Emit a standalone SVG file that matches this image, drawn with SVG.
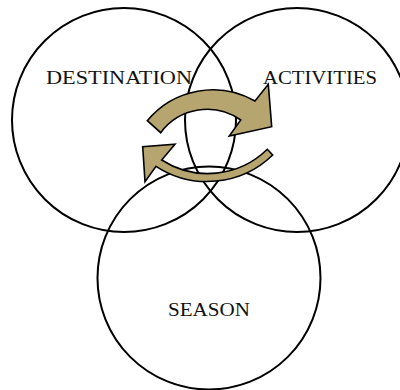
<svg xmlns="http://www.w3.org/2000/svg" width="400" height="390" viewBox="0 0 400 390">
<style>
.c{fill:none;stroke:#000;stroke-width:2}
.t{font-family:"Liberation Serif","DejaVu Serif",serif;font-size:19px;fill:#111}
.a{fill:#b7a56f;stroke:#000;stroke-width:1.6;stroke-linejoin:miter}
</style>
<rect width="400" height="390" fill="#fff"/>
<g id="destination">
<circle class="c" cx="124" cy="120" r="112"/>
<text class="t" x="46" y="84" textLength="146" lengthAdjust="spacingAndGlyphs">DESTINATION</text>
</g>
<g id="activities">
<circle class="c" cx="297" cy="120" r="112"/>
<text class="t" x="263" y="84" textLength="114" lengthAdjust="spacingAndGlyphs">ACTIVITIES</text>
</g>
<g id="season">
<circle class="c" cx="209" cy="278" r="111.5"/>
<text class="t" x="168" y="316" textLength="82" lengthAdjust="spacingAndGlyphs">SEASON</text>
</g>
<g id="connectors">
<path class="a" d="M147.3,120.7 A85,85 0 0 1 255,101 L268.3,84.3 L271.7,126.7 L229.3,136 L240.7,120 A58,58 0 0 0 160.7,132.7 Z"/>
<path class="a" d="M161.7,160 A85,85 0 0 0 267.3,149.3 L272.7,155 A94,94 0 0 1 156,166.3 L145,181.7 L142.7,146.7 L175,144.3 Z"/>
</g>
</svg>
